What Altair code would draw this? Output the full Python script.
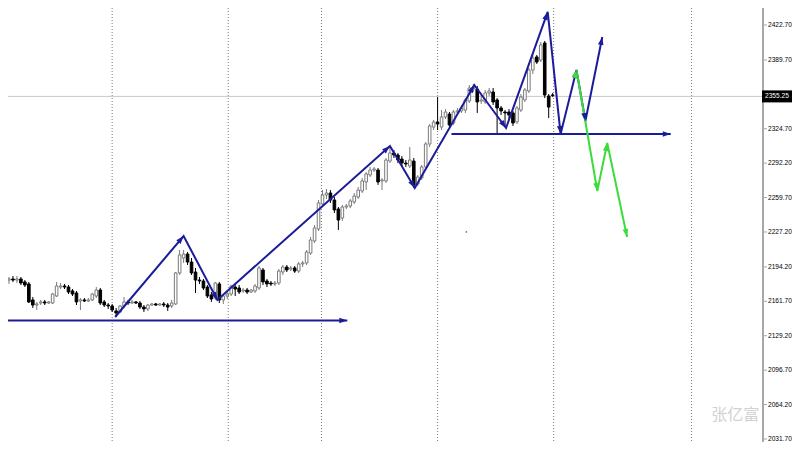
import math
import altair as alt
import pandas as pd

# ---------------- data ----------------
opens = [
    2181.8, 2182.8, 2181.8, 2182.8, 2181.8, 2182.8, 2180.0, 2178.1, 2163.0, 2158.2,
    2160.1, 2161.1, 2160.1, 2160.1, 2166.7, 2175.2, 2176.2, 2175.2, 2171.5, 2169.6,
    2162.0, 2163.0, 2162.0, 2163.0, 2166.7, 2172.4, 2161.1, 2158.2, 2157.3, 2152.6,
    2151.6, 2157.3, 2161.1, 2160.1, 2161.1, 2160.1, 2156.3, 2154.5, 2158.2, 2159.2,
    2158.2, 2159.2, 2158.2, 2157.3, 2159.2, 2188.5, 2202.6, 2206.4, 2198.8, 2189.4,
    2181.8, 2180.9, 2175.2, 2167.7, 2164.8, 2178.1, 2163.0, 2166.7, 2168.6, 2175.2,
    2174.3, 2171.5, 2172.4, 2170.5, 2171.5, 2174.3, 2191.3, 2180.9, 2179.0, 2178.1,
    2179.0, 2189.4, 2194.1, 2192.2, 2193.2, 2190.3, 2197.0, 2197.9, 2207.3, 2218.7,
    2230.0, 2253.6, 2262.1, 2264.0, 2257.4, 2248.9, 2240.4, 2250.8, 2251.7, 2255.5,
    2260.2, 2265.9, 2274.4, 2281.0, 2285.7, 2285.7, 2275.4, 2275.4, 2294.2, 2301.8,
    2299.9, 2296.1, 2292.3, 2289.5, 2294.2, 2272.5, 2278.2, 2288.6, 2310.3, 2326.3,
    2331.1, 2326.3, 2335.8, 2338.6, 2330.1, 2340.5, 2341.5, 2342.4, 2350.9, 2362.2,
    2362.2, 2350.9, 2350.0, 2358.5, 2359.4, 2351.9, 2344.3, 2340.5, 2340.5, 2339.6,
    2331.1, 2342.4, 2351.9, 2360.4, 2380.2, 2392.5, 2389.6, 2405.7, 2355.6, 2356.6,
]
closes = [
    2182.8, 2181.8, 2182.8, 2181.8, 2182.8, 2179.0, 2177.1, 2161.1, 2158.2, 2159.2,
    2161.1, 2160.1, 2161.1, 2168.6, 2176.2, 2176.2, 2175.2, 2170.5, 2168.6, 2161.1,
    2163.0, 2162.0, 2163.0, 2168.6, 2172.4, 2160.1, 2158.2, 2157.3, 2153.5, 2150.7,
    2157.3, 2161.1, 2160.1, 2161.1, 2160.1, 2156.3, 2154.5, 2158.2, 2159.2, 2158.2,
    2159.2, 2158.2, 2156.3, 2160.1, 2188.5, 2205.5, 2206.4, 2198.8, 2188.5, 2181.8,
    2180.9, 2174.3, 2166.7, 2163.9, 2179.0, 2163.0, 2166.7, 2168.6, 2176.2, 2173.3,
    2170.5, 2172.4, 2170.5, 2172.4, 2176.2, 2193.2, 2180.0, 2178.1, 2178.1, 2179.0,
    2190.3, 2194.1, 2191.3, 2193.2, 2190.3, 2197.0, 2197.9, 2208.3, 2219.6, 2231.0,
    2254.6, 2262.1, 2264.0, 2257.4, 2248.0, 2238.5, 2250.8, 2251.7, 2256.5, 2261.2,
    2266.8, 2275.4, 2282.0, 2285.7, 2286.7, 2274.4, 2276.3, 2295.2, 2301.8, 2299.9,
    2295.2, 2292.3, 2291.4, 2295.2, 2271.6, 2279.1, 2288.6, 2310.3, 2327.3, 2331.1,
    2329.2, 2335.8, 2340.5, 2328.2, 2340.5, 2341.5, 2344.3, 2351.9, 2363.2, 2364.1,
    2350.0, 2351.9, 2358.5, 2360.4, 2350.0, 2344.3, 2341.5, 2339.6, 2337.7, 2330.1,
    2344.3, 2354.7, 2361.3, 2380.2, 2391.5, 2387.7, 2403.8, 2356.6, 2345.2, 2356.0,
]
highs = [
    2184.7, 2185.6, 2184.7, 2185.6, 2185.6, 2184.7, 2181.8, 2180.0, 2165.8, 2161.1,
    2163.0, 2163.0, 2162.0, 2169.6, 2180.0, 2179.0, 2178.1, 2177.1, 2173.3, 2171.5,
    2164.8, 2164.8, 2164.8, 2169.6, 2175.2, 2174.3, 2163.0, 2160.1, 2159.2, 2155.4,
    2158.2, 2165.8, 2163.0, 2163.0, 2162.0, 2162.0, 2158.2, 2159.2, 2160.1, 2160.1,
    2160.1, 2161.1, 2160.1, 2163.0, 2189.4, 2210.2, 2210.2, 2208.3, 2202.6, 2193.2,
    2184.7, 2182.8, 2177.1, 2170.5, 2180.0, 2180.0, 2168.6, 2172.4, 2177.1, 2179.0,
    2177.1, 2174.3, 2174.3, 2173.3, 2178.1, 2195.1, 2193.2, 2182.8, 2180.9, 2180.9,
    2192.2, 2196.0, 2196.0, 2195.1, 2195.1, 2198.8, 2199.8, 2210.2, 2222.5, 2233.8,
    2257.4, 2266.8, 2267.8, 2266.8, 2260.2, 2250.8, 2252.7, 2253.6, 2258.3, 2264.0,
    2269.7, 2278.2, 2283.8, 2288.6, 2288.6, 2287.6, 2278.2, 2297.1, 2307.5, 2304.6,
    2301.8, 2299.0, 2295.2, 2307.5, 2297.1, 2281.0, 2290.5, 2312.2, 2329.2, 2333.0,
    2354.7, 2342.4, 2343.3, 2340.5, 2342.4, 2344.3, 2347.1, 2353.7, 2366.0, 2367.0,
    2365.1, 2356.6, 2361.3, 2363.2, 2363.2, 2353.7, 2346.2, 2342.4, 2343.3, 2341.5,
    2346.2, 2357.5, 2363.2, 2382.1, 2394.4, 2394.4, 2406.6, 2407.6, 2357.5, 2358.5,
]
lows = [
    2179.0, 2179.0, 2178.1, 2180.0, 2179.0, 2177.1, 2175.2, 2160.1, 2155.4, 2153.5,
    2158.2, 2158.2, 2159.2, 2159.2, 2165.8, 2173.3, 2173.3, 2168.6, 2166.7, 2158.2,
    2153.5, 2161.1, 2161.1, 2162.0, 2164.8, 2158.2, 2156.3, 2154.5, 2151.6, 2146.9,
    2150.7, 2155.4, 2158.2, 2159.2, 2159.2, 2154.5, 2151.6, 2152.6, 2157.3, 2157.3,
    2157.3, 2156.3, 2152.6, 2155.4, 2158.2, 2186.6, 2197.9, 2196.0, 2186.6, 2169.6,
    2178.1, 2172.4, 2164.8, 2161.1, 2163.0, 2160.1, 2159.2, 2163.9, 2166.7, 2166.7,
    2168.6, 2169.6, 2168.6, 2169.6, 2169.6, 2172.4, 2177.1, 2175.2, 2176.2, 2176.2,
    2177.1, 2186.6, 2189.4, 2190.3, 2188.5, 2188.5, 2194.1, 2196.0, 2205.5, 2216.8,
    2228.1, 2250.8, 2258.3, 2254.6, 2245.1, 2229.1, 2237.6, 2248.9, 2249.8, 2253.6,
    2258.3, 2264.0, 2266.8, 2279.1, 2283.8, 2271.6, 2266.8, 2273.5, 2292.3, 2297.1,
    2292.3, 2289.5, 2288.6, 2287.6, 2268.7, 2270.6, 2276.3, 2286.7, 2307.5, 2323.5,
    2323.5, 2323.5, 2333.9, 2326.3, 2328.2, 2338.6, 2339.6, 2339.6, 2349.0, 2359.4,
    2339.6, 2348.1, 2348.1, 2355.6, 2347.1, 2318.8, 2337.7, 2327.3, 2333.0, 2327.3,
    2329.2, 2340.5, 2350.0, 2358.5, 2376.4, 2385.9, 2387.7, 2353.7, 2334.8, 2354.7,
]

# blue zig-zag (bar index, price)
zz_t = [28.75, 46, 54.5, 98, 104.25, 119.25, 127.25, 137.75, 141, 145, 147.25, 151.5]
zz_p = [2146.9, 2223.4, 2163.0, 2308.4, 2268.7, 2366.0, 2325.4, 2435.0, 2319.7, 2380.2, 2332.0, 2411.4]
# green projection
gr_t = [145, 150.25, 152.75, 157.75]
gr_p = [2380.2, 2265.9, 2311.2, 2222.5]
# horizontal levels
lvl1_t = [-0.25, 87.25]
lvl1_p = 2143.6
lvl2_t = [113.5, 168.75]
lvl2_p = 2319.7
# period separators (bar index)
sep_t = [28, 57.25, 80.75, 110, 139.25, 174]
# current price
last_price = 2355.25
last_label = "2355.25"
# y axis labels
axis_values = [2422.70, 2389.70, 2324.70, 2292.20, 2259.70, 2227.20,
               2194.20, 2161.70, 2129.20, 2096.70, 2064.20, 2031.70]
watermark = "张亿富"
wm_t, wm_p = 185, 2054.3
dot_t, dot_p = 117.25, 2227.2

# ---------------- layout ----------------
W, H = 754, 434
RIGHT = 30
T_DOMAIN = [1.75, 191.75]
P_DOMAIN = [2028.83, 2438.74]
PX_T = W / (T_DOMAIN[1] - T_DOMAIN[0])
PX_P = H / (P_DOMAIN[1] - P_DOMAIN[0])
BLUE = "#1c1c9a"
GREEN = "#3cdc3c"
AXIS_GRAY = "#a8a8a8"

xs = alt.Scale(domain=T_DOMAIN, nice=False, zero=False, padding=0)
ys = alt.Scale(domain=P_DOMAIN, nice=False, zero=False, padding=0)

n = len(opens)
bars = pd.DataFrame({"t": list(range(n)), "open": opens, "high": highs,
                     "low": lows, "close": closes})
bull = alt.datum.close >= alt.datum.open


def path_df(ts, ps, seg):
    return pd.DataFrame({"t": ts, "p": ps, "o": list(range(len(ts))), "seg": seg})


def heads(ts, ps, color, back=4.0, start=1):
    rows = []
    for i in range(start, len(ts)):
        dx = (ts[i] - ts[i - 1]) * PX_T
        dy = (ps[i] - ps[i - 1]) * PX_P
        a = math.atan2(dx, dy)
        rows.append({"t": ts[i] - math.sin(a) * back / PX_T,
                     "p": ps[i] - math.cos(a) * back / PX_P,
                     "angle": math.degrees(a) % 360, "c": color})
    return rows


X = lambda f="t": alt.X(f"{f}:Q", scale=xs, axis=None)
Y = lambda f="p": alt.Y(f"{f}:Q", scale=ys, axis=None)

seps = alt.Chart(pd.DataFrame({"t": sep_t})).mark_rule(
    color="#7a7a7a", strokeDash=[1, 2], strokeWidth=1, clip=True
).encode(x=X())

price_line = alt.Chart(pd.DataFrame({"p": [last_price]})).mark_rule(
    color="#c8c8c8", strokeWidth=1, clip=True
).encode(y=Y())

wicks = alt.Chart(bars).mark_rule(strokeWidth=1, clip=True).encode(
    x=X(), y=Y("low"), y2="high:Q",
    color=alt.condition(bull, alt.value("#7a7a7a"), alt.value("#000000")),
)
bodies = alt.Chart(bars).mark_bar(size=2.6, strokeWidth=1, clip=True).encode(
    x=X(), y=Y("open"), y2="close:Q",
    fill=alt.condition(bull, alt.value("#ffffff"), alt.value("#000000")),
    stroke=alt.condition(bull, alt.value("#7a7a7a"), alt.value("#000000")),
)

levels_df = pd.concat([
    path_df(lvl1_t, [lvl1_p, lvl1_p], "a"),
    path_df(lvl2_t, [lvl2_p, lvl2_p], "b"),
])
levels = alt.Chart(levels_df).mark_line(color=BLUE, strokeWidth=2, clip=True).encode(
    x=X(), y=Y(), order="o:Q", detail="seg:N")

blue_line = alt.Chart(path_df(zz_t, zz_p, "z")).mark_line(
    color=BLUE, strokeWidth=2, clip=True).encode(x=X(), y=Y(), order="o:Q")
green_line = alt.Chart(path_df(gr_t, gr_p, "g")).mark_line(
    color=GREEN, strokeWidth=2, clip=True).encode(x=X(), y=Y(), order="o:Q")

head_rows = []
head_rows += heads(lvl1_t, [lvl1_p, lvl1_p], BLUE)
head_rows += heads(lvl2_t, [lvl2_p, lvl2_p], BLUE)
head_rows += heads(zz_t, zz_p, BLUE)
head_rows += heads(zz_t[8:10], zz_p[8:10], GREEN)
head_rows += heads(gr_t, gr_p, GREEN)
arrow_heads = alt.Chart(pd.DataFrame(head_rows)).mark_point(
    shape="M0,-1L0.7,1L-0.7,1Z", size=64, filled=True, opacity=1, strokeWidth=0, clip=True
).encode(x=X(), y=Y(), angle=alt.Angle("angle:Q", scale=None),
         color=alt.Color("c:N", scale=None))

dot = alt.Chart(pd.DataFrame({"t": [dot_t], "p": [dot_p]})).mark_point(
    filled=True, size=3, color="#777777", opacity=1).encode(x=X(), y=Y())

wm = alt.Chart(pd.DataFrame({"t": [wm_t], "p": [wm_p], "s": [watermark]})).mark_text(
    font="Noto Sans CJK SC", fontSize=16, color="#d2d2d2", align="center", baseline="middle"
).encode(x=X(), y=Y(), text="s:N")

# price axis on the right (drawn with the y scale)
ticks_df = pd.DataFrame({"p": axis_values, "s": [f"{v:.2f}" for v in axis_values]})
axis_line = alt.Chart(pd.DataFrame({"k": [0]})).mark_rule(
    color=AXIS_GRAY, strokeWidth=2, clip=False
).encode(x=alt.value(W + 1), y=alt.value(0), y2=alt.value(H))
axis_ticks = alt.Chart(ticks_df).mark_rule(
    color=AXIS_GRAY, strokeWidth=1, clip=False
).encode(x=alt.value(W + 2), x2=alt.value(W + 5), y=Y())
axis_labels = alt.Chart(ticks_df).mark_text(
    font="Liberation Sans", fontSize=6.6, color="#000000", align="left",
    baseline="middle", clip=False
).encode(x=alt.value(W + 6), y=Y(), text="s:N")

tag = alt.Chart(pd.DataFrame({"p": [last_price], "s": [last_label]}))
tag_box = tag.mark_point(
    shape="M-1,-0.4H1V0.4H-1Z", size=900, filled=True, color="#000000",
    opacity=1, strokeWidth=0, clip=False
).encode(x=alt.value(W + 15), y=Y())
tag_text = tag.mark_text(
    font="Liberation Sans", fontSize=6.6, color="#ffffff", align="left",
    baseline="middle", clip=False
).encode(x=alt.value(W + 3), y=Y(), text="s:N")

chart = alt.layer(
    seps, price_line, wicks, bodies, levels, blue_line, green_line,
    arrow_heads, dot, wm, axis_line, axis_ticks, axis_labels, tag_box, tag_text
).properties(
    width=W, height=H,
    autosize=alt.AutoSizeParams(type="none"),
    padding={"left": 0, "top": 0, "right": RIGHT, "bottom": 0},
    background="#ffffff",
).configure_view(strokeWidth=0)

chart.save("out.html", embed_options={"renderer": "svg", "actions": False})
